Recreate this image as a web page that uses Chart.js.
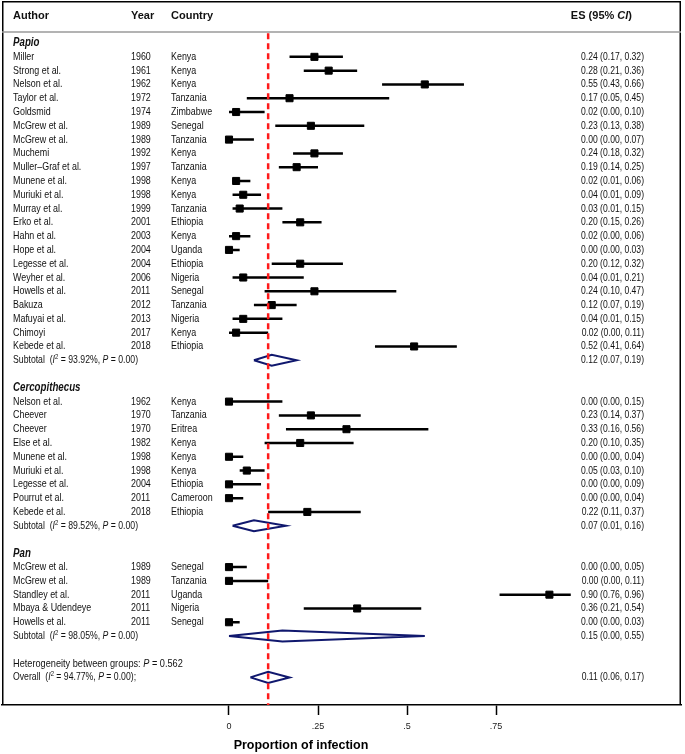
<!DOCTYPE html>
<html>
<head>
<meta charset="utf-8">
<script src="https://cdn.jsdelivr.net/npm/chart.js@4.4.1/dist/chart.umd.min.js"></script>
<style>
  html, body { margin: 0; padding: 0; background: #fff; }
</style>
</head>
<body>
<canvas id="forest" width="685" height="754"></canvas>
<script>
// ---- data ----
const groupNames = ['Papio', 'Cercopithecus', 'Pan'];

const papioAuthors = ['Miller', 'Strong et al.', 'Nelson et al.', 'Taylor et al.', 'Goldsmid', 'McGrew et al.', 'McGrew et al.', 'Muchemi', 'Muller\u2013Graf et al.', 'Munene et al.', 'Muriuki et al.', 'Murray et al.', 'Erko et al.', 'Hahn et al.', 'Hope et al.', 'Legesse et al.', 'Weyher et al.', 'Howells et al.', 'Bakuza', 'Mafuyai et al.', 'Chimoyi', 'Kebede et al.'];
const papioYears = [1960, 1961, 1962, 1972, 1974, 1989, 1989, 1992, 1997, 1998, 1998, 1999, 2001, 2003, 2004, 2004, 2006, 2011, 2012, 2013, 2017, 2018];
const papioCountries = ['Kenya', 'Kenya', 'Kenya', 'Tanzania', 'Zimbabwe', 'Senegal', 'Tanzania', 'Kenya', 'Tanzania', 'Kenya', 'Kenya', 'Tanzania', 'Ethiopia', 'Kenya', 'Uganda', 'Ethiopia', 'Nigeria', 'Senegal', 'Tanzania', 'Nigeria', 'Kenya', 'Ethiopia'];
const papioES = [0.24, 0.28, 0.55, 0.17, 0.02, 0.23, 0.00, 0.24, 0.19, 0.02, 0.04, 0.03, 0.20, 0.02, 0.00, 0.20, 0.04, 0.24, 0.12, 0.04, 0.02, 0.52];
const papioLo = [0.17, 0.21, 0.43, 0.05, 0.00, 0.13, 0.00, 0.18, 0.14, 0.01, 0.01, 0.01, 0.15, 0.00, 0.00, 0.12, 0.01, 0.10, 0.07, 0.01, 0.00, 0.41];
const papioHi = [0.32, 0.36, 0.66, 0.45, 0.10, 0.38, 0.07, 0.32, 0.25, 0.06, 0.09, 0.15, 0.26, 0.06, 0.03, 0.32, 0.21, 0.47, 0.19, 0.15, 0.11, 0.64];

const cercoAuthors = ['Nelson et al.', 'Cheever', 'Cheever', 'Else et al.', 'Munene et al.', 'Muriuki et al.', 'Legesse et al.', 'Pourrut et al.', 'Kebede et al.'];
const cercoYears = [1962, 1970, 1970, 1982, 1998, 1998, 2004, 2011, 2018];
const cercoCountries = ['Kenya', 'Tanzania', 'Eritrea', 'Kenya', 'Kenya', 'Kenya', 'Ethiopia', 'Cameroon', 'Ethiopia'];
const cercoES = [0.00, 0.23, 0.33, 0.20, 0.00, 0.05, 0.00, 0.00, 0.22];
const cercoLo = [0.00, 0.14, 0.16, 0.10, 0.00, 0.03, 0.00, 0.00, 0.11];
const cercoHi = [0.15, 0.37, 0.56, 0.35, 0.04, 0.10, 0.09, 0.04, 0.37];

const panAuthors = ['McGrew et al.', 'McGrew et al.', 'Standley et al.', 'Mbaya & Udendeye', 'Howells et al.'];
const panYears = [1989, 1989, 2011, 2011, 2011];
const panCountries = ['Senegal', 'Tanzania', 'Uganda', 'Nigeria', 'Senegal'];
const panES = [0.00, 0.00, 0.90, 0.36, 0.00];
const panLo = [0.00, 0.00, 0.76, 0.21, 0.00];
const panHi = [0.05, 0.11, 0.96, 0.54, 0.03];

const subtotalES = [0.12, 0.07, 0.15];
const subtotalLo = [0.07, 0.01, 0.00];
const subtotalHi = [0.19, 0.16, 0.55];
const subtotalI2 = ['93.92%', '89.52%', '98.05%'];
const subtotalP = ['0.00', '0.00', '0.00'];

const overallES = 0.11, overallLo = 0.06, overallHi = 0.17;
const overallI2 = '94.77%', overallP = '0.00';
const betweenP = '0.562';

const tickValues = [0, 0.25, 0.5, 0.75];
const tickLabels = ['0', '.25', '.5', '.75'];

// ---- build rows ----
const groups = [
  { authors: papioAuthors, years: papioYears, countries: papioCountries, es: papioES, lo: papioLo, hi: papioHi },
  { authors: cercoAuthors, years: cercoYears, countries: cercoCountries, es: cercoES, lo: cercoLo, hi: cercoHi },
  { authors: panAuthors, years: panYears, countries: panCountries, es: panES, lo: panLo, hi: panHi },
];

const rows = [];      // text rows
const boxes = [];
const ciLines = [];
const diamonds = [];
const DH = 0.4;       // diamond half height, in rows
const GAP = { x: null, y: null };
let r = 0;

function addDiamond(es, lo, hi, row) {
  diamonds.push({ x: lo, y: row }, { x: es, y: row - DH }, { x: hi, y: row }, { x: es, y: row + DH }, { x: lo, y: row }, GAP);
}
const fmt = (es, lo, hi) => es.toFixed(2) + ' (' + lo.toFixed(2) + ', ' + hi.toFixed(2) + ')';

groups.forEach((g, gi) => {
  rows.push({ type: 'group', row: r, label: groupNames[gi] });
  r++;
  g.authors.forEach((a, i) => {
    rows.push({ type: 'study', row: r, author: a, year: g.years[i], country: g.countries[i], es: fmt(g.es[i], g.lo[i], g.hi[i]) });
    boxes.push({ x: g.es[i], y: r });
    ciLines.push({ x: g.lo[i], y: r }, { x: g.hi[i], y: r }, GAP);
    r++;
  });
  rows.push({ type: 'subtotal', row: r, i2: subtotalI2[gi], p: subtotalP[gi], es: fmt(subtotalES[gi], subtotalLo[gi], subtotalHi[gi]) });
  addDiamond(subtotalES[gi], subtotalLo[gi], subtotalHi[gi], r);
  r += 2;
});
rows.push({ type: 'between', row: r, p: betweenP });
r++;
rows.push({ type: 'overall', row: r, i2: overallI2, p: overallP, es: fmt(overallES, overallLo, overallHi) });
addDiamond(overallES, overallLo, overallHi, r);

// ---- text ----
const SANS = '"Liberation Sans", Arial, sans-serif';
const BODY = '11px ' + SANS;
const ITAL = 'italic 11px ' + SANS;
const SUP = '7.5px ' + SANS;
const ESF = '11px ' + SANS;
const HEAD = 'bold 11px ' + SANS;
const HEADI = 'italic bold 11px ' + SANS;
const GRP = 'italic bold 12px ' + SANS;
const SX = 0.81;     // condense body text, the original face is narrow

// text squeezed horizontally by sx
function text(ctx, s, x, y, font, sx, align) {
  ctx.save();
  ctx.font = font;
  ctx.textAlign = align || 'left';
  ctx.translate(x, y);
  ctx.scale(sx, 1);
  ctx.fillText(s, 0, 0);
  ctx.restore();
  ctx.font = font;
  return ctx.measureText(s).width * sx;
}

function drawRich(ctx, x, y, parts, sx) {
  parts.forEach(p => {
    x += text(ctx, p.text, x, y + (p.dy || 0), p.font, sx);
  });
}

const tablePlugin = {
  id: 'tableText',
  afterDraw(chart) {
    const ctx = chart.ctx;
    const y = chart.scales.y;
    const area = chart.chartArea;
    ctx.save();

    // frame and header separator
    ctx.strokeStyle = '#000';
    ctx.lineWidth = 1.5;
    ctx.beginPath();
    ctx.moveTo(area.left + 0.75, area.bottom);
    ctx.lineTo(area.left + 0.75, area.top + 0.75);
    ctx.lineTo(area.right - 0.75, area.top + 0.75);
    ctx.lineTo(area.right - 0.75, area.bottom);
    ctx.stroke();
    ctx.strokeStyle = '#9a9a9a';
    ctx.beginPath();
    ctx.moveTo(area.left, y.getPixelForValue(-0.8));
    ctx.lineTo(area.right, y.getPixelForValue(-0.8));
    ctx.stroke();

    ctx.fillStyle = '#111';
    ctx.textBaseline = 'middle';

    // header
    const hy = y.getPixelForValue(-2);
    text(ctx, 'Author', 13, hy, HEAD, 1);
    text(ctx, 'Year', 131, hy, HEAD, 1);
    text(ctx, 'Country', 171, hy, HEAD, 1);
    ctx.font = HEAD;
    const w1 = ctx.measureText('ES (95% ').width;
    const w3 = ctx.measureText(')').width;
    ctx.font = HEADI;
    const w2 = ctx.measureText('CI').width;
    drawRich(ctx, 632 - w1 - w2 - w3, hy, [
      { text: 'ES (95% ', font: HEAD },
      { text: 'CI', font: HEADI },
      { text: ')', font: HEAD },
    ], 1);

    rows.forEach(row => {
      const py = y.getPixelForValue(row.row);
      if (row.type === 'group') {
        text(ctx, row.label, 13, py, GRP, 0.81);
      } else if (row.type === 'study') {
        text(ctx, row.author, 13, py, BODY, SX);
        text(ctx, String(row.year), 131, py, BODY, SX);
        text(ctx, row.country, 171, py, BODY, SX);
      } else if (row.type === 'subtotal' || row.type === 'overall') {
        drawRich(ctx, 13, py, [
          { text: (row.type === 'subtotal' ? 'Subtotal' : 'Overall') + '  (', font: BODY },
          { text: 'I', font: ITAL },
          { text: '2', font: SUP, dy: -3 },
          { text: ' = ' + row.i2 + ', ', font: BODY },
          { text: 'P', font: ITAL },
          { text: ' = ' + row.p + ')' + (row.type === 'overall' ? ';' : ''), font: BODY },
        ], 0.79);
      } else if (row.type === 'between') {
        drawRich(ctx, 13, py, [
          { text: 'Heterogeneity between groups: ', font: BODY },
          { text: 'P', font: ITAL },
          { text: ' = ' + row.p, font: BODY },
        ], 0.835);
      }
      if (row.es) {
        text(ctx, row.es, 644, py, ESF, 0.78, 'right');
      }
    });

    // axis title
    ctx.fillStyle = '#000';
    text(ctx, 'Proportion of infection', 301, 746, 'bold 12.5px ' + SANS, 1, 'center');
    ctx.restore();
  }
};

new Chart(document.getElementById('forest'), {
  type: 'scatter',
  data: {
    datasets: [
      {
        label: 'overall line',
        data: [{ x: overallES, y: -0.72 }, { x: overallES, y: 48 }],
        showLine: true,
        borderColor: '#ff1a1a',
        borderWidth: 2.5,
        borderDash: [6, 4],
        pointRadius: 0,
        order: 0,
      },
      {
        label: 'estimates',
        data: boxes,
        pointStyle: 'rect',
        pointRadius: 5,
        backgroundColor: '#000',
        borderColor: '#000',
        borderWidth: 1,
        order: 1,
      },
      {
        label: 'pooled',
        data: diamonds,
        showLine: true,
        spanGaps: false,
        borderColor: '#10186e',
        borderWidth: 2,
        pointRadius: 0,
        order: 2,
      },
      {
        label: 'ci',
        data: ciLines,
        showLine: true,
        spanGaps: false,
        borderColor: '#000',
        borderWidth: 2.5,
        pointRadius: 0,
        order: 3,
      },
    ],
  },
  options: {
    responsive: false,
    animation: false,
    devicePixelRatio: 1,
    layout: { autoPadding: false, padding: { left: 2, right: 4, top: 1, bottom: 0 } },
    plugins: { legend: { display: false }, tooltip: { enabled: false } },
    scales: {
      x: {
        type: 'linear',
        min: (2 - 229) / 356,
        max: (681 - 229) / 356,
        afterBuildTicks: (s) => { s.ticks = tickValues.map(v => ({ value: v })); },
        afterFit: (s) => {
          s.height = 49;
          s.paddingLeft = 0; s.paddingRight = 0; s.paddingTop = 0; s.paddingBottom = 0;
        },
        ticks: {
          callback: (v) => tickLabels[tickValues.indexOf(v)],
          font: { family: 'Liberation Sans', size: 9 },
          color: '#222',
          padding: 6,
          maxRotation: 0,
          autoSkip: false,
        },
        grid: { drawOnChartArea: false, drawTicks: true, tickLength: 10, tickWidth: 1.5, tickColor: '#000' },
        border: { display: true, color: '#000', width: 1.5 },
      },
      y: {
        type: 'linear',
        display: false,
        reverse: true,
        min: -3.05,
        max: 48,
      },
    },
  },
  plugins: [tablePlugin],
});
</script>
</body>
</html>
